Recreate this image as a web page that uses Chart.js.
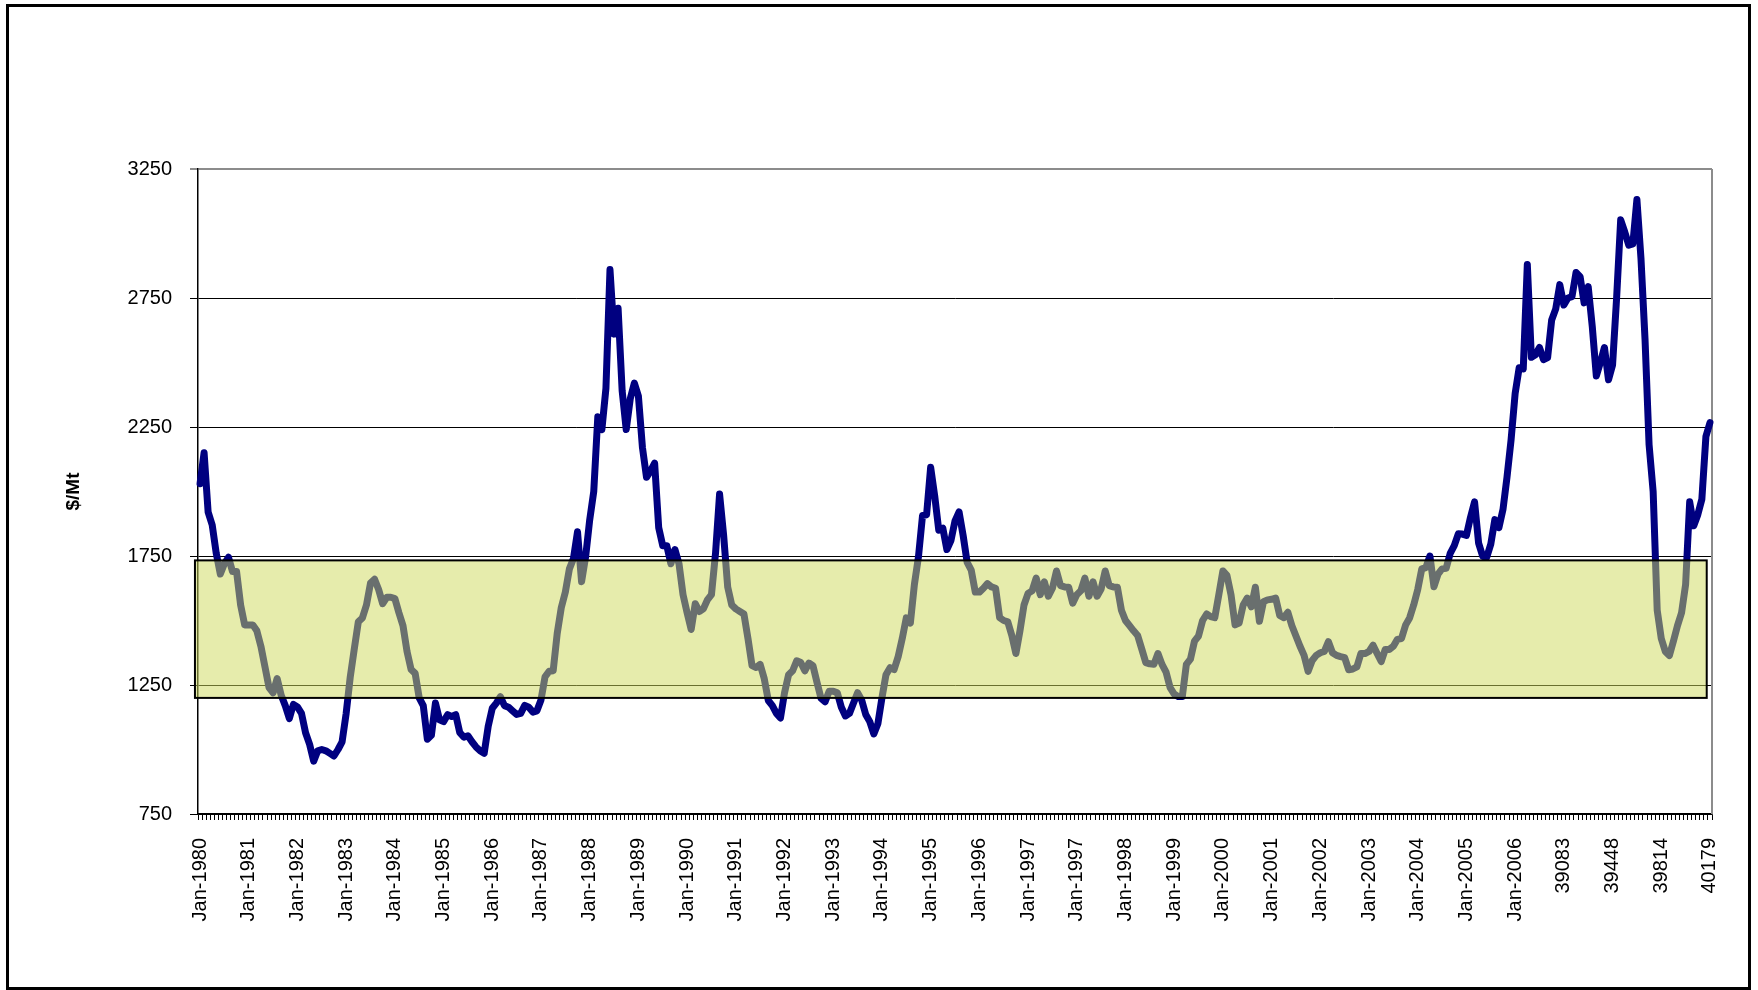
<!DOCTYPE html>
<html>
<head>
<meta charset="utf-8">
<script src="https://cdn.jsdelivr.net/npm/chart.js@4.4.1/dist/chart.umd.min.js"></script>
<style>
  html, body { margin: 0; padding: 0; background: #fff; }
  #wrap { width: 1758px; height: 990px; }
</style>
</head>
<body>
<div id="wrap"><canvas id="priceChart"></canvas></div>
<script>
// tick labels shown every 12 months (as they appear on the axis)
const tickLabels = [
  'Jan-1980', 'Jan-1981', 'Jan-1982', 'Jan-1983', 'Jan-1984', 'Jan-1985',
  'Jan-1986', 'Jan-1987', 'Jan-1988', 'Jan-1989', 'Jan-1990', 'Jan-1991',
  'Jan-1992', 'Jan-1993', 'Jan-1994', 'Jan-1995', 'Jan-1996', 'Jan-1997',
  'Jan-1997', 'Jan-1998', 'Jan-1999', 'Jan-2000', 'Jan-2001', 'Jan-2002',
  'Jan-2003', 'Jan-2004', 'Jan-2005', 'Jan-2006', '39083', '39448',
  '39814', '40179'
];

// monthly prices, $/Mt (one row = 12 months)
const prices1980s = [
  2030, 2150, 1920, 1870, 1760, 1680, 1720, 1745, 1690, 1690, 1560, 1483,
  1483, 1483, 1460, 1400, 1320, 1240, 1220, 1275, 1210, 1170, 1120, 1175,
  1165, 1140, 1065, 1020, 955, 995, 1000, 995, 985, 975, 1000, 1030,
  1140, 1280, 1390, 1495, 1510, 1560, 1645, 1660, 1620, 1565, 1590, 1590,
  1585, 1530, 1480, 1380, 1310, 1295, 1200, 1170, 1040, 1055, 1180, 1115,
  1108, 1135, 1128, 1135, 1065, 1048, 1053, 1030, 1010, 995, 985, 1090,
  1160, 1180, 1205, 1170, 1164, 1150, 1136, 1140, 1171, 1164, 1145, 1150,
  1192, 1282, 1303, 1305, 1450, 1550, 1610, 1700, 1740, 1844, 1650, 1747,
  1890, 2000, 2290, 2240, 2400, 2860, 2610, 2710, 2390, 2240, 2360, 2420,
  2370, 2170, 2055, 2080, 2110, 1860, 1790, 1790, 1720, 1775, 1720, 1600
];
const prices1990s = [
  1530, 1465, 1565, 1535, 1545, 1580, 1600, 1760, 1990, 1830, 1630, 1560,
  1545, 1535, 1525, 1430, 1325, 1318, 1330, 1275, 1190, 1170, 1140, 1122,
  1220, 1290, 1305, 1344, 1337, 1305, 1335, 1325, 1260, 1198, 1185, 1226,
  1226, 1220, 1164, 1130, 1140, 1180, 1220, 1192, 1136, 1108, 1060, 1100,
  1200, 1290, 1317, 1310, 1360, 1430, 1510, 1490, 1640, 1747, 1907, 1910,
  2094, 1983, 1850, 1858, 1775, 1810, 1886, 1921, 1830, 1725, 1695, 1610,
  1610, 1625, 1643, 1630, 1625, 1511, 1500, 1495, 1442, 1372, 1460, 1560,
  1605, 1615, 1664, 1600, 1650, 1594, 1625, 1692, 1635, 1630, 1629, 1567,
  1600, 1615, 1664, 1594, 1650, 1594, 1622, 1692, 1635, 1630, 1629, 1540,
  1500, 1480, 1460, 1442, 1390, 1337, 1332, 1330, 1372, 1330, 1300, 1240
];
const prices2000s = [
  1215, 1205, 1205, 1330, 1350, 1420, 1440, 1500, 1525, 1515, 1511, 1600,
  1692, 1675, 1600, 1483, 1490, 1560, 1587, 1553, 1629, 1497, 1573, 1580,
  1582, 1587, 1520, 1511, 1532, 1480, 1440, 1400, 1365, 1303, 1345, 1365,
  1375, 1380, 1418, 1375, 1365, 1360, 1356, 1309, 1312, 1320, 1372, 1372,
  1380, 1404, 1372, 1341, 1388, 1388, 1400, 1427, 1430, 1482, 1510, 1560,
  1620, 1700, 1705, 1750, 1631, 1680, 1700, 1702, 1760, 1790, 1836, 1835,
  1830, 1900, 1960, 1800, 1749, 1745, 1796, 1891, 1860, 1930, 2056, 2200,
  2380, 2480, 2475, 2880, 2520, 2530, 2558, 2511, 2519, 2665, 2708, 2802,
  2723, 2750, 2755, 2849, 2833, 2731, 2794, 2640, 2448, 2500, 2558, 2433,
  2490, 2750, 3053, 3006, 2955, 2960, 3132, 2904, 2590, 2181, 2000, 1540
];
const prices2010 = [
  1430, 1380, 1364, 1420, 1480, 1530, 1640, 1960, 1867, 1910, 1970, 2213,
  2267
];

// shaded price band ($/Mt) and its extent in month index units
const bandRange = [1200, 1733];
const bandMonths = [-1.25, 371.2];

const prices = [...prices1980s, ...prices1990s, ...prices2000s, ...prices2010];
const months = prices.map((p, i) => (i % 12 === 0 ? tickLabels[i / 12] : ''));

const pageDecor = {
  id: 'pageDecor',
  beforeDraw(chart) {
    const ctx = chart.ctx;
    ctx.save();
    ctx.fillStyle = '#fff';
    ctx.fillRect(0, 0, chart.width, chart.height);
    ctx.restore();
  },
  beforeDatasetsDraw(chart) {
    const { ctx, chartArea } = chart;
    ctx.save();
    ctx.strokeStyle = '#8c8c8c';
    ctx.lineWidth = 2;
    ctx.beginPath();
    ctx.moveTo(chartArea.right, chartArea.top);
    ctx.lineTo(chartArea.right, chartArea.bottom);
    ctx.stroke();
    ctx.restore();
  },
  afterDraw(chart) {
    const ctx = chart.ctx;
    ctx.save();
    ctx.strokeStyle = '#000';
    ctx.lineWidth = 3;
    ctx.strokeRect(7.5, 5.5, chart.width - 16, chart.height - 7);
    ctx.restore();
  }
};

// semi transparent band over the line (turns the navy line grey inside it)
const bandPlugin = {
  id: 'band',
  afterDatasetsDraw(chart) {
    const { ctx, scales } = chart;
    const left = scales.x.getPixelForValue(bandMonths[0]);
    const right = scales.x.getPixelForValue(bandMonths[1]);
    const top = scales.y.getPixelForValue(bandRange[1]);
    const bottom = scales.y.getPixelForValue(bandRange[0]);
    ctx.save();
    ctx.fillStyle = 'rgba(206, 218, 92, 0.51)';
    ctx.fillRect(left, top, right - left, bottom - top);
    ctx.strokeStyle = '#000';
    ctx.lineWidth = 2;
    ctx.strokeRect(left, top, right - left, bottom - top);
    ctx.restore();
  }
};

const font = 'Liberation Sans, Arial, sans-serif';

new Chart(document.getElementById('priceChart'), {
  type: 'line',
  data: {
    labels: months,
    datasets: [
      {
        label: 'Price',
        data: prices,
        borderColor: '#000080',
        borderWidth: 7,
        pointRadius: 0,
        tension: 0,
        borderJoinStyle: 'round',
        borderCapStyle: 'round',
        fill: false
      }
    ]
  },
  options: {
    responsive: true,
    maintainAspectRatio: false,
    animation: false,
    layout: { padding: { left: 50, right: 46, top: 169, bottom: 10 } },
    plugins: {
      legend: { display: false },
      tooltip: { enabled: false }
    },
    scales: {
      x: {
        type: 'category',
        offset: true,
        afterFit(scale) { scale.height = 166; },
        grid: {
          offset: true,
          drawOnChartArea: false,
          drawTicks: true,
          tickLength: 6,
          color: '#000',
          lineWidth: 1
        },
        border: { display: true, color: '#000', width: 1.5 },
        ticks: {
          autoSkip: false,
          maxRotation: 90,
          minRotation: 90,
          padding: 18,
          color: '#000',
          font: { family: font, size: 20 },
          callback: (v, i) => months[i]
        }
      },
      y: {
        min: 750,
        max: 3250,
        afterFit(scale) { scale.width = 148; },
        grid: {
          color: (c) => (c.tick && c.tick.value === 3250 ? '#8c8c8c' : '#000'),
          lineWidth: (c) => (c.tick && c.tick.value === 3250 ? 2 : 1),
          drawTicks: true,
          tickLength: 8
        },
        border: { display: true, color: '#000', width: 1.5 },
        ticks: {
          stepSize: 500,
          padding: 18,
          color: '#000',
          font: { family: font, size: 20 },
          callback: (v) => String(v)
        },
        title: {
          display: true,
          text: '$/Mt',
          color: '#000',
          font: { family: font, size: 19, weight: 'bold' },
          padding: { top: 12, bottom: 0 }
        }
      }
    }
  },
  plugins: [pageDecor, bandPlugin]
});
</script>
</body>
</html>
